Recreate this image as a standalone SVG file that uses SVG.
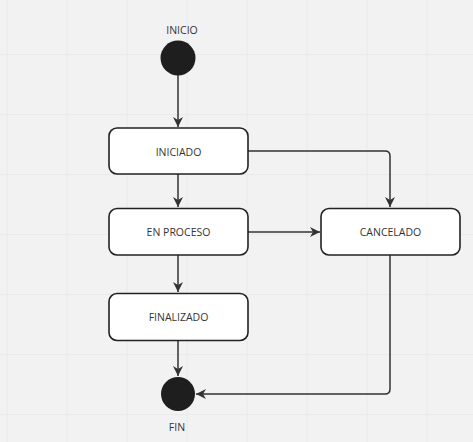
<svg xmlns="http://www.w3.org/2000/svg" width="473" height="442" viewBox="0 0 473 442">
<defs>
<pattern id="grid" x="6.5" y="-6" width="60" height="60" patternUnits="userSpaceOnUse">
<path d="M0 0 V60 M0 0 H60" fill="none" stroke="#e2e2e2" stroke-width="1"/>
</pattern>
<marker id="arr" viewBox="0 0 10 10" refX="10" refY="5" markerWidth="10" markerHeight="10" markerUnits="userSpaceOnUse" orient="auto">
<path d="M0 0 L10 5 L0 10 L3 5 Z" fill="#333"/>
</marker>
<style>
.box{fill:#fff;stroke:#222;stroke-width:1.6}
.dot{fill:#1e1e1e}
.lbl{font-family:"Open Sans","Liberation Sans",sans-serif;font-size:10.5px;fill:#333;text-anchor:middle;dominant-baseline:central}
.c{fill:none;stroke:#333;stroke-width:1.5;marker-end:url(#arr)}
</style>
</defs>
<rect width="473" height="442" fill="#f2f2f2"/>
<rect width="473" height="442" fill="url(#grid)"/>
<g id="connectors">
<path class="c" d="M178 75 V127"/>
<path class="c" d="M178 174 V207"/>
<path class="c" d="M248 151 H385 Q390 151 390 156 V207"/>
<path class="c" d="M248 232 H320"/>
<path class="c" d="M178 255 V292"/>
<path class="c" d="M178 340 V376"/>
<path class="c" d="M390 255 V389 Q390 394 385 394 H196"/>
</g>
<g id="inicio">
<circle class="dot" cx="178" cy="58" r="17.5"/>
<text class="lbl" x="182" y="30">INICIO</text>
</g>
<g id="iniciado">
<rect class="box" x="109" y="128" width="139" height="46" rx="8"/>
<text class="lbl" x="178.5" y="151.5">INICIADO</text>
</g>
<g id="en-proceso">
<rect class="box" x="109" y="208.5" width="139" height="46.5" rx="8"/>
<text class="lbl" x="178.5" y="232">EN PROCESO</text>
</g>
<g id="cancelado">
<rect class="box" x="321" y="208.5" width="139" height="46.5" rx="8"/>
<text class="lbl" x="390.5" y="232">CANCELADO</text>
</g>
<g id="finalizado">
<rect class="box" x="109" y="293.5" width="139" height="47" rx="8"/>
<text class="lbl" x="178.5" y="317">FINALIZADO</text>
</g>
<g id="fin">
<circle class="dot" cx="178" cy="394" r="17"/>
<text class="lbl" x="177" y="427">FIN</text>
</g>
</svg>
